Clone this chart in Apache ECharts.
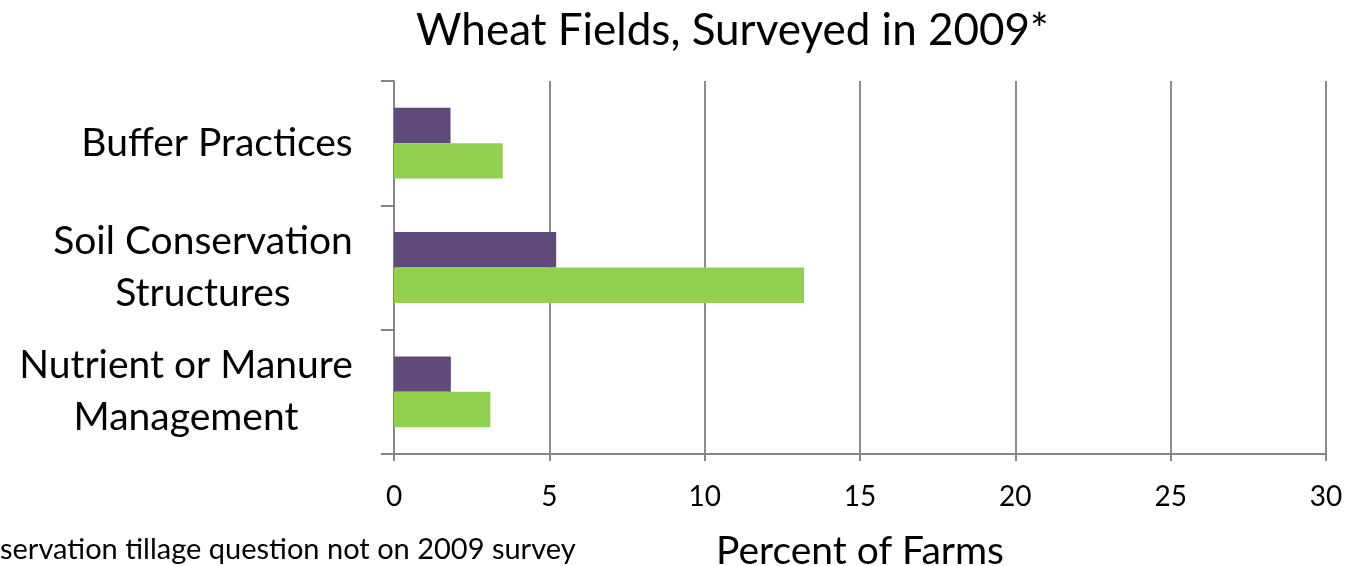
<!DOCTYPE html>
<html>
<head>
<meta charset="utf-8">
<script src="https://cdn.jsdelivr.net/npm/echarts@6/dist/echarts.min.js"></script>
<style>
html,body{margin:0;padding:0;background:#fff;}
#chart{width:1345px;height:566px;}
</style>
</head>
<body>
<div id="chart"></div>
<script>
var categories = ['Buffer Practices', 'Soil Conservation\nStructures', 'Nutrient or Manure\nManagement'];
var seriesPurple = [1.82, 5.22, 1.83];
var seriesGreen = [3.5, 13.2, 3.1];
var xTicks = [0, 5, 10, 15, 20, 25, 30];
var titleText = 'Wheat Fields, Surveyed in 2009*';
var xName = 'Percent of Farms';
var footnote = 'servation tillage question not on 2009 survey';

var FONT = 'Lato, "Open Sans", sans-serif';
var labelSize = 39;

// measure label block widths so multi-line labels can be centered within a right-aligned block
var cv = document.createElement('canvas').getContext('2d');
cv.font = labelSize + 'px ' + FONT;
var rich = {};
categories.forEach(function (c, i) {
  var w = 0;
  c.split('\n').forEach(function (l) { w = Math.max(w, cv.measureText(l).width); });
  rich['w' + i] = { width: Math.ceil(w) + 2, align: 'center', fontSize: labelSize, fontFamily: FONT, color: '#000', lineHeight: 52 };
});

var chart = echarts.init(document.getElementById('chart'), null, { renderer: 'canvas' });
chart.setOption({
  animation: false,
  backgroundColor: '#fff',
  title: {
    text: titleText,
    left: 411,
    top: 4,
    textStyle: { fontFamily: FONT, fontSize: 44, fontWeight: 'normal', color: '#000' }
  },
  grid: { left: 394, right: 19, top: 81, bottom: 112, containLabel: false, outerBoundsMode: 'none' },
  xAxis: {
    type: 'value',
    min: xTicks[0],
    max: xTicks[xTicks.length - 1],
    interval: xTicks[1] - xTicks[0],
    name: xName,
    nameLocation: 'middle',
    nameGap: 78,
    nameTextStyle: { fontFamily: FONT, fontSize: 39, color: '#000' },
    axisLine: { show: true, lineStyle: { color: '#868686', width: 2 } },
    axisTick: { show: true, length: 7, lineStyle: { color: '#868686', width: 2 } },
    axisLabel: { fontFamily: FONT, fontSize: 28, color: '#000', margin: 29 },
    splitLine: { show: true, lineStyle: { color: '#8c8c8c', width: 2 } }
  },
  yAxis: {
    type: 'category',
    inverse: true,
    data: categories,
    axisLine: { show: true, lineStyle: { color: '#868686', width: 2 } },
    axisTick: { show: true, length: 13, lineStyle: { color: '#868686', width: 2 } },
    axisLabel: {
      margin: 40,
      formatter: function (v, i) {
        return v.split('\n').map(function (l) { return '{w' + i + '|' + l + '}'; }).join('\n');
      },
      rich: rich
    },
    splitLine: { show: false }
  },
  series: [
    {
      type: 'bar',
      data: seriesPurple,
      itemStyle: { color: '#604a7b' },
      barGap: '0%',
      barCategoryGap: '43%'
    },
    {
      type: 'bar',
      data: seriesGreen,
      itemStyle: { color: '#92d050' },
      barGap: '0%',
      barCategoryGap: '43%'
    }
  ],
  graphic: [
    {
      type: 'text',
      left: 0,
      top: 535,
      style: { text: footnote, font: '29px ' + FONT, fill: '#000' }
    }
  ]
});
</script>
</body>
</html>
